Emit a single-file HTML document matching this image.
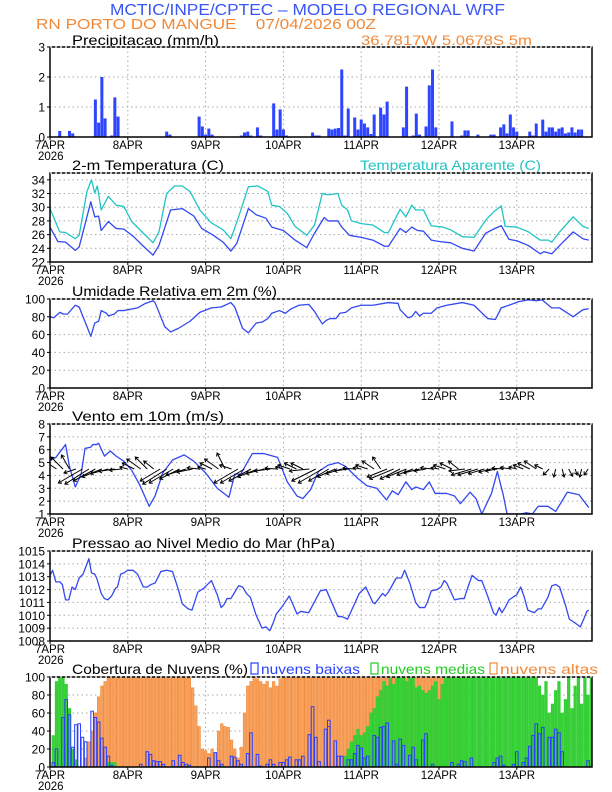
<!DOCTYPE html>
<html><head><meta charset="utf-8"><style>
html,body{margin:0;padding:0;background:#fff;}
svg{display:block;font-family:"Liberation Sans",sans-serif;}
</style></head><body>
<svg id="chart" width="612" height="792" viewBox="0 0 612 792" xmlns="http://www.w3.org/2000/svg"></svg>
<script>
// ---------- DATA ----------
const dayLabels = ["7APR","8APR","9APR","10APR","11APR","12APR","13APR"];
const precipHours = [3,6,7,14,15,16,17,19,20,21,23,36,37,46,47,48,49,50,59,60,61,62,64,65,69,70,71,72,73,81,82,83,86,87,88,89,90,91,92,94,95,96,97,98,99,100,102,103,104,109,110,112,113,114,116,117,118,119,124,127,128,129,132,136,137,139,140,141,142,143,144,148,149,150,152,153,154,155,156,157,158,159,160,161,162,163,164];
const precipVals = [0.2,0.2,0.12,1.25,0.48,2.0,0.62,0.05,1.32,0.68,0.02,0.18,0.08,0.68,0.35,0.08,0.28,0.08,0.05,0.15,0.18,0.05,0.32,0.05,1.12,0.25,0.92,0.25,0.05,0.15,0.05,0.05,0.28,0.25,0.28,0.3,2.25,0.05,0.95,0.65,0.25,0.58,0.45,0.32,0.1,0.75,0.98,0.75,1.18,0.32,1.68,0.05,0.78,0.08,0.35,1.72,2.25,0.32,0.52,0.05,0.22,0.22,0.08,0.08,0.08,0.32,0.42,0.12,0.75,0.32,0.18,0.18,0.05,0.45,0.58,0.18,0.32,0.32,0.18,0.28,0.32,0.12,0.15,0.32,0.15,0.25,0.25];
const tempHours = [0,2.4,4.8,7.8,9,12.6,13.8,15,15.8,18,20.4,22.8,25.8,28.8,31.8,33.6,37.2,40.8,44.4,46.8,50.4,53.4,55.8,57.6,61.2,63.6,66.6,68.4,72,75.6,79.2,81.6,84.6,85.8,88.8,90,92.4,96,99.6,103.2,104.4,108,109.8,111.6,113.4,115.2,117.6,120,123.6,127.2,130.8,134.4,136.8,139.2,141.6,144,147.6,151.2,152.4,154.8,157.2,161.4,164.4,166.2];
const tempVals = [27.1,25,24.9,23.7,24.2,30.8,28.6,28.7,26.6,27.9,26.9,26.8,25.7,24.3,23,24.4,29.6,29.8,28.7,26.9,25.9,24.9,23.6,24.7,29.8,28.9,28.4,27.1,26.6,25.2,24.1,26.2,28.5,28,28,27.1,25.9,25.6,25.2,24.3,24.3,26.9,26.3,27.1,26.6,26.5,25.2,25,24.8,24,23.6,26.2,26.8,27.3,25.3,25.1,24.4,23.2,23.5,23.2,24.4,26.4,25.4,25.2];
const appHours = [0,3,4.8,7.8,9,11.4,12.8,13.8,14.6,15.8,18,20.4,22.8,25.2,28.8,31.8,33.6,36,38.4,40.8,43.2,46.2,49.8,53.4,55.8,58.2,61.2,64.2,67.2,68.4,70.8,73.2,75.6,79.2,81.6,84,85.8,88.8,90,91.8,93,96,99.6,103.2,104.4,108,109.8,111.6,112.8,115.2,117.6,121.2,123.6,127.2,130.8,134.4,136.8,139.2,140.4,144,147.6,151.2,153.6,154.8,157.2,161.4,164.4,166.2];
const appVals = [29.8,26.4,26.3,25.4,25.9,32.3,34,32.1,33.1,29.6,31.6,30.3,30.1,27.9,26.2,24.8,26.4,32,33.1,33.1,32.3,29.6,27.7,26.7,25.4,28.6,33,33.1,32.3,30.3,30.1,29.1,27.2,25.9,27.4,32,31.8,32,30.3,29.6,28,27.6,27.4,26.3,26.3,29.7,28.6,30.3,29.6,29.6,27.3,27.1,26.7,25.7,25.6,28.1,29.3,30.2,27.2,27.1,26.4,25.2,25.2,24.9,26.4,28.6,27.2,26.9];
const rhHours = [0,1.2,3,4.2,5.4,7.8,9,12.6,13.8,15,15.8,17.4,18,19.8,21,22.8,27,29.4,31.8,32.4,35.4,37.2,39.6,43.2,46.2,49.8,52.8,55.8,57,59.4,61.2,63.6,65.4,67.2,68.4,70.8,72.6,74.4,76.8,79.8,81.6,84,85.2,86.4,88.2,89.4,91.2,93,96,99.6,104.4,107.4,108,110.4,111.6,112.8,114,115.2,117.6,119.4,122.4,127.2,130.8,135,137.4,139.2,141.6,144.6,147.6,150,151.8,154.8,157.2,161.4,164.4,166.2];
const rhVals = [80,79,85,83,83,93,91,58,73,75,87,84,81,83,87,87,90,95,98,96,69,63,67,75,85,90,91,96,91,67,62,73,74,78,84,87,84,89,93,94,86,72,76,78,78,84,85,90,93,93,96,95,88,79,80,86,81,84,84,90,93,96,93,78,77,90,93,97,99,98,99,90,90,80,88,89];
const windHours = [0,1.8,4.8,6,7.8,9.6,10.8,12.6,13.2,14.4,15,16.8,18.6,20.4,22.8,25.2,27.6,30.6,32.4,34.8,37.8,41.4,44.4,48,51.6,55.2,57,58.8,62.4,66,70.2,73.2,76.2,78,80.4,82.8,85.8,88.8,91.2,94.8,97.8,100.8,103.8,105.6,107.4,109.8,111.6,112.8,115.2,117,118.8,122.4,124.8,126.6,129.6,131.4,133.2,136.2,138,139.8,141,145.2,147,148.8,150.6,153.6,156,159.6,163.2,166.2];
const windVals = [5.2,5.4,6.4,4.7,3.1,4.1,6.1,6.2,6.4,6.4,6.5,5.5,5.9,5.5,5.1,4.4,3.3,1.6,2.4,4.2,5.2,5.6,5.1,4.2,3,2.3,4.1,4.1,5.7,5.7,5.4,3.5,2.4,2.2,2.9,4.3,4.8,5,4.7,3.8,3.2,3,2.1,2.8,2.5,3.5,2.9,3.1,2.9,3.5,2.6,2.6,2.4,1.8,2.7,2.2,1,2.6,4.3,2.5,1,1,1.1,1,1.6,1.6,1.2,2.7,2.5,1.5];
// wind vectors every 2 hours (u east, v north)
const windU = [-2,-3,-3,-2,-3,-6,-6,-5.5,-5,-4.5,-4,-3, -2,-3,-3.5,-3,-2.5,-5,-6,-6,-5,-5,-4,-3, -2,-3,-3.5,-2,-3,-6,-6,-5.5,-5,-4.5,-4,-3, -2,-3,-3,-3,-5,-6,-6,-5,-4.5,-4,-3.5,-3, -2,-3,-3,-2,-5,-6,-5,-5,-4,-4,-3,-3, -2,-3,-3,-2.5,-4,-5,-5,-4,-3,-3,-3,-2.5, -2,-2.5,-3,-3,-2,-1.5,-0.5,0.5,1,0.5,-0.5,-1];
const windV = [1,2,3,3.5,-1,-3.5,-3.8,-3,-2,-1.2,-0.6,-0.3, 0.5,1.5,2.5,3,2,-3,-3.8,-3.5,-2.5,-1.5,-0.8,0.3, 0.5,1.5,2.5,4,1,-3.5,-3.5,-3,-2,-1.2,-0.5,0.2, 0.5,1,1.5,1.5,-0.5,-3,-3.5,-3,-2,-1.2,-0.5,0.2, 0.3,1,2,3,-2,-2.5,-2.5,-2,-1.5,-1,-0.5,0.3, 0.3,1,1.5,2,-0.5,-1.5,-1.5,-1.2,-0.8,-0.5,0.2,0.4, 0.5,1,1.5,2,1,-1.5,-2,-2,-1.8,-1.5,-2,-1.5];
const presHours = [0,0.8,1.8,3,3.8,4.8,5.8,6.8,7.8,9,10.2,12,12.8,13.8,14.4,15.8,16.8,17.8,19,20.2,20.8,21.8,22.8,24,25.6,27,28.8,30,31.2,32.4,34.2,36,37.8,39.6,40.8,42.6,43.8,45.6,47.4,48.6,49.8,51.6,52.8,53.6,54.6,55.8,57,58.2,59.4,60.6,61.8,63.6,65.4,66.6,67.8,69,69.8,71.4,73.8,76.2,77.4,79.8,83.4,85.2,88.8,90,91.8,95.4,97.4,99.6,100.2,102.6,103.4,104.4,106.8,108.4,109.4,111,112.8,114,115.6,116.4,117.6,119.4,120.6,121.6,122.4,124.8,126.6,127.8,128.4,130.2,132.2,133.2,135,136.8,137.6,138.6,139.4,140.4,141.6,144,145.2,146.2,147.4,149.4,150.6,151.6,153.6,154.8,156,157.2,159,160.2,162,163.6,164.8,165.6,166.2];
const presVals = [1013.1,1013.5,1012.6,1012.6,1012.4,1011.2,1011.2,1012.2,1012,1012.9,1013.2,1014.4,1013.3,1013.2,1012.9,1011.7,1011.3,1011.2,1011.5,1012.1,1012.2,1013.2,1013.3,1013.5,1013.5,1013.2,1012.2,1012.2,1012.4,1012.5,1013.4,1013.5,1013.4,1012,1010.9,1010.5,1010.4,1011.8,1012.1,1012.4,1012.7,1011.6,1010.6,1010.8,1011.3,1011.3,1011.8,1012.3,1012.2,1011.7,1011.4,1010,1009,1009.1,1008.8,1009.5,1010.1,1010.6,1011.5,1010.1,1010.3,1010.2,1011.9,1012,1009.9,1009.9,1009.7,1011.7,1012.2,1011,1010.9,1011.7,1011.5,1011.8,1012.9,1012.9,1013.5,1012.5,1011,1010.6,1010.6,1011,1011.9,1012,1012.2,1012.7,1012.5,1011.2,1011.3,1011.3,1011.8,1013.1,1012.7,1012.7,1011.5,1010.2,1010,1010.6,1010.2,1010.6,1011.2,1011.6,1012.2,1011.5,1010.4,1010.2,1010.5,1010.5,1011.4,1012.3,1012.4,1012.2,1010.8,1009.7,1009.4,1009.1,1009.8,1010.3,1010.4];
const cloudHigh = [0,0,0,0,0,0,0,0,0,0,0, 10,28,40,60,78,90,95, 100,100,100,100,100,100,100,100,100,100,100,100,100,100,100,100,100,100,100,100,100,100,100,100,100,100, 88,68,45,20,18,15,20,15,40,48,45,44,30,20,10,22,60,90,95,100,98,95,92,95,88,95,90,98, 100,100,100,100,100,100,100,100,100,100,100,100,100,100,100,100,100,100,100,100,100,100,100,100,100,100,100,100,100,100,100,100,100,100,100,100,100,100,100,100,100,100,100,100,100,100,100,100,100,100,100,100,100, 98,98,98, 0,0,0,0,0,0,0,0,0,0,0,0,0,0,0,0,0,0,0,0,0,0,0,0,0,0,0,0,0,0,0,0,0,0,0,0,0,0,0,0,0,0,0,0];
const cloudMid = [0,35,95,100,100,92,65,20,8, 0,0,0,0,0,0,0,0,0, 5,5,5, 0,0,0,0,0,0,0,0,0,0,0,0,0,0,0,0,0,0,0,0,0,0,0,0,0,0,0,0,0,0,0,0,0,0,0,0,0,0,0,0,0,0,0,0,0,0,0,0,0,0,0,0,0,0,0,0,0,0,0,0,0,0,0,0,0,0,0,0,0,0, 12,20,28,35,42,35,38,45,60,65,78,85,95,90,100,92,100,100,100,95,100,100,88,90,85,82,85,90,95,75,92, 100,100,100,100,100,100,100,100,100,100,100,100,100,100,100,100,100,100,100,100,100,100,100,100,100,100,100,100,100, 90,80,95,60,70,85,95,60,75,100,65,90,100,70,100,80,100];
const cloudLowHours = [1.2,2.4,3.6,4.8,6,7.2,7.8,9,10,10.8,12.6,13.8,14.8,15.8,16.8,17.8,19.2,28.2,29.8,30.8,31.8,33,34,34.8,38.4,39.6,40.8,42,43.2,49.2,50.6,51.6,52.8,55.8,57,57.8,58.8,61.2,62.4,63.6,64.8,66.6,67.8,69,70.8,72,73.2,74.4,75.6,76.8,78,79.6,80.6,81.6,82.8,84.6,85.6,86.4,87.6,88.8,90,91.8,93,94.2,95.4,96.2,97.4,98.4,99.6,100.6,101.8,103.2,104.4,105.6,106.8,108.2,109.4,110.6,111.8,113.4,114.6,116.4,117.6,123.6,126,127.2,128.4,130.2,136.8,138,139.2,140.4,142.8,144,145.8,146.8,147.6,148.8,150,151.2,152.4,153.6,154.8,156,157.2,158.4,166.2];
const cloudLowVals = [5,20,55,75,58,22,47,48,33,28,62,55,50,32,22,12,2,3,17,14,7,6,6,3,7,13,5,3,2,10,16,7,3,12,11,7,3,15,38,14,1,3,8,3,5,5,8,11,8,8,12,36,67,33,6,42,52,45,29,12,12,8,8,15,24,21,10,12,35,33,44,45,49,29,3,31,24,13,22,8,30,37,3,5,3,7,6,10,5,10,12,2,3,17,5,10,23,35,48,37,44,33,33,42,38,17,7];

// ---------- LAYOUT ----------
const NS = "http://www.w3.org/2000/svg";
const svg = document.getElementById("chart");
const X0 = 50, DAYPX = 77.8, X1 = 592;
function xScale(h){ return X0 + h * DAYPX / 24; }
function yScaleFor(p){ return v => p.bot - (v - p.ymin) / (p.ymax - p.ymin) * (p.bot - p.top); }
function el(tag, attrs, parent){
  const e = document.createElementNS(NS, tag);
  for (const k in attrs) e.setAttribute(k, attrs[k]);
  (parent || svg).appendChild(e);
  return e;
}
function txt(str, x, y, size, color, anchor, len, parent){
  const t = el("text", {x:x, y:y, "font-size":size, fill:color, "text-anchor":anchor||"start"}, parent);
  if (len) { t.setAttribute("textLength", len); t.setAttribute("lengthAdjust", "spacingAndGlyphs"); }
  t.textContent = str;
  return t;
}

const panels = [
  {key:"precip", top:47, bot:137, ymin:0, ymax:3, ticks:[0,1,2,3]},
  {key:"temp", top:173, bot:262, ymin:22, ymax:35, ticks:[22,24,26,28,30,32,34]},
  {key:"humidity", top:299, bot:388, ymin:0, ymax:100, ticks:[0,20,40,60,80,100]},
  {key:"wind", top:424, bot:514, ymin:1, ymax:8, ticks:[1,2,3,4,5,6,7,8]},
  {key:"pressure", top:551, bot:641, ymin:1008, ymax:1015, ticks:[1008,1009,1010,1011,1012,1013,1014,1015]},
  {key:"clouds", top:677, bot:767, ymin:0, ymax:100, ticks:[0,20,40,60,80,100]}
];

// headers
let t;
t = txt("MCTIC/INPE/CPTEC – MODELO REGIONAL WRF", 110, 15, 16, "#3a55f5", "start", 395);


t = txt("RN PORTO DO MANGUE    07/04/2026 00Z", 36, 29, 15, "#f08a3a", "start", 340);


t.setAttribute("xml:space", "preserve");
t.style.whiteSpace = "pre";
t = txt("36.7817W 5.0678S 5m", 361, 45, 14, "#f08a3a", "start", 171);



const defs = el("defs", {});
panels.forEach((p, i) => {
  const g = el("g", {});
  
  
  p.g = g;
  p.y = yScaleFor(p);
  const cp = el("clipPath", {id:"clip" + i}, defs);
  el("rect", {x:X0, y:p.top, width:X1 - X0, height:p.bot - p.top}, cp);
  // grid
  for (let d = 1; d < 7; d++) {
    const gx = xScale(d * 24);
    const gl = el("line", {x1:gx, x2:gx, y1:p.top, y2:p.bot, stroke:"#aaa", "stroke-width":1, "stroke-dasharray":"1.5,3"}, g);
    
    
  }
  p.ticks.forEach(v => {
    const gy = p.y(v);
    if (v !== p.ymin && v !== p.ymax) {
      const gl = el("line", {x1:X0, x2:X1, y1:gy, y2:gy, stroke:"#aaa", "stroke-width":1, "stroke-dasharray":"1.5,3"}, g);
      
      
    }
    const tk = el("line", {x1:X0 - 3, x2:X0, y1:gy, y2:gy, stroke:"#000", "stroke-width":1}, g);
    
    
    const lb = txt(String(v), X0 - 5, gy + 4.5, 12, "#000", "end", null, g);
    
    
  });
  dayLabels.forEach((d, k) => {
    const lx = xScale(k * 24);
    const tk = el("line", {x1:lx, x2:lx, y1:p.bot, y2:p.bot + 3, stroke:"#000", "stroke-width":1}, g);
    
    
    const lb = txt(d, lx, p.bot + 12, 11.5, "#000", "middle", null, g);
    
    
  });
  const yr = txt("2026", 38, p.bot + 23, 11.5, "#000", "start", null, g);
  
  
  p.plot = el("g", {"clip-path":"url(#clip" + i + ")"}, g);
  
  
});

function line(p, hrs, vals, color, name){
  const n = Math.min(hrs.length, vals.length);
  let d = "";
  for (let i = 0; i < n; i++) d += (i ? "L" : "M") + xScale(hrs[i]).toFixed(2) + "," + p.y(vals[i]).toFixed(2);
  const pa = el("path", {d:d, fill:"none", stroke:color, "stroke-width":1.3, "stroke-linejoin":"round"}, p.plot);
  
  
}

// precip bars
(function(){
  const p = panels[0];
  const n = Math.min(precipHours.length, precipVals.length);
  for (let i = 0; i < n; i++) {
    const bx = xScale(precipHours[i]) - 1.5, by = p.y(precipVals[i]);
    const r = el("rect", {x:bx, y:by, width:3, height:p.bot - by, fill:"#2e45ff"}, p.plot);
    
    
  }
  t = txt("Precipitacao (mm/h)", 72, 45, 14, "#000", "start", 147, p.g);
  
  
})();

// temperature
(function(){
  const p = panels[1];
  line(p, appHours, appVals, "#22c4c4", "apparent-temperature-line");
  line(p, tempHours, tempVals, "#3348f0", "temperature-line");
  t = txt("2-m Temperatura (C)", 72, 170, 14, "#000", "start", 152, p.g);
  
  
  t = txt("Temperatura Aparente (C)", 360, 170, 14, "#22c4c4", "start", 181, p.g);
  
  
})();

// humidity
(function(){
  const p = panels[2];
  line(p, rhHours, rhVals, "#3348f0", "humidity-line");
  t = txt("Umidade Relativa em 2m (%)", 72, 296, 14, "#000", "start", 205, p.g);
  
  
})();

// wind
(function(){
  const p = panels[3];
  line(p, windHours, windVals, "#3348f0", "wind-speed-line");
  const by = p.y(4.5);
  const n = Math.min(windU.length, windV.length);
  for (let i = 0; i < n; i++) {
    const bx = xScale(i * 2);
    const dx = windU[i] * 4, dy = -windV[i] * 4;
    const ex = bx + dx, ey = by + dy;
    const len = Math.hypot(dx, dy) || 1;
    const ux = dx / len, uy = dy / len;
    const hx1 = ex - ux * 3 + uy * 2, hy1 = ey - uy * 3 - ux * 2;
    const hx2 = ex - ux * 3 - uy * 2, hy2 = ey - uy * 3 + ux * 2;
    const a = el("path", {d:"M" + bx + "," + by + "L" + ex + "," + ey + "M" + hx1 + "," + hy1 + "L" + ex + "," + ey + "L" + hx2 + "," + hy2, stroke:"#000", "stroke-width":1, fill:"none"}, p.plot);
    
    
  }
  t = txt("Vento em 10m (m/s)", 72, 421, 14, "#000", "start", 152, p.g);
  
  
})();

// pressure
(function(){
  const p = panels[4];
  line(p, presHours, presVals, "#3348f0", "pressure-line");
  t = txt("Pressao ao Nivel Medio do Mar (hPa)", 72, 548, 14, "#000", "start", 263, p.g);
  
  
})();

// clouds
(function(){
  const p = panels[5];
  const bw = 2.6;
  for (let h = 0; h < cloudHigh.length; h++) {
    if (!cloudHigh[h]) continue;
    const by = p.y(cloudHigh[h]);
    const r = el("rect", {x:xScale(h) - bw / 2, y:by, width:bw, height:p.bot - by, fill:"#f7a25e", stroke:"#f28a3c", "stroke-width":0.6}, p.plot);
    
    
  }
  for (let h = 0; h < cloudMid.length; h++) {
    if (!cloudMid[h]) continue;
    const by = p.y(cloudMid[h]);
    const r = el("rect", {x:xScale(h) - bw / 2, y:by, width:bw, height:p.bot - by, fill:"#3fcc3f", stroke:"#22d422", "stroke-width":0.6}, p.plot);
    
    
  }
  const n = Math.min(cloudLowHours.length, cloudLowVals.length);
  for (let i = 0; i < n; i++) {
    const h = Math.round(cloudLowHours[i]);
    const by = p.y(cloudLowVals[i]);
    const r = el("rect", {x:xScale(h) - bw / 2, y:by, width:bw, height:p.bot - by, fill:"none", stroke:"#2a40ff", "stroke-width":1}, p.plot);
    
    
  }
  t = txt("Cobertura de Nuvens (%)", 72, 674, 14, "#000", "start", 176, p.g);
  
  
  const legend = [["nuvens baixas", "#2a40ff", 251, 99, "legend-low-clouds"], ["nuvens medias", "#22cc22", 371, 104, "legend-mid-clouds"], ["nuvens altas", "#f08a3a", 490, 98, "legend-high-clouds"]];
  legend.forEach(L => {
    const b = el("rect", {x:L[2], y:663, width:7, height:11, fill:"none", stroke:L[1], "stroke-width":1.2}, p.g);
    
    
    const tt = txt(L[0], L[2] + 10, 674, 14, L[1], "start", L[3], p.g);
    
    
  });
})();

// frames on top
panels.forEach(p => {
  const f = el("rect", {x:X0, y:p.top, width:X1 - X0, height:p.bot - p.top, fill:"none", stroke:"#000", "stroke-width":1.5}, p.g);
  
  
  const tl = el("line", {x1:X0, x2:X1, y1:p.top, y2:p.top, stroke:"#fff", "stroke-width":1, "stroke-dasharray":"2,3"}, p.g);
  
  
});
</script>
</body></html>
